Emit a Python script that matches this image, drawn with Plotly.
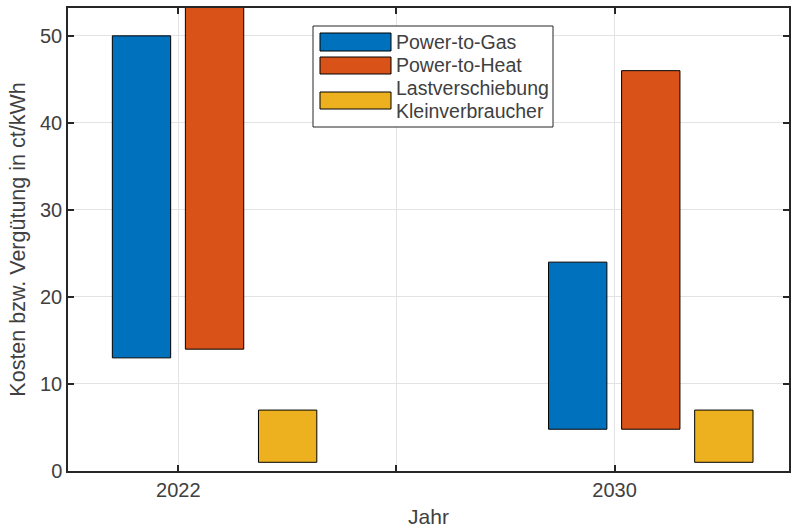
import plotly.graph_objects as go

# Data: floating bars (lower and upper bound) per year and technology
years = [2022, 2030]
series = ["Power-to-Gas", "Power-to-Heat", "Lastverschiebung<br>Kleinverbraucher"]
lower = {
    "Power-to-Gas": [13, 4.8],
    "Power-to-Heat": [14, 4.8],
    "Lastverschiebung<br>Kleinverbraucher": [1, 1],
}
upper = {
    "Power-to-Gas": [50, 24],
    "Power-to-Heat": [56, 46],
    "Lastverschiebung<br>Kleinverbraucher": [7, 7],
}
colors = ["#0072BD", "#D95319", "#EDB120"]
x_ticks = [2022, 2026, 2030]
x_ticklabels = ["2022", "", "2030"]
y_ticks = [0, 10, 20, 30, 40, 50]

bar_width = 1.07
offsets = [-1.21, 0.13, 1.47]

FONT = "Liberation Sans, Arial, sans-serif"
TXT = "#404040"
AX = "#262626"

fig = go.Figure()
for name, col, off in zip(series, colors, offsets):
    lo = lower[name]
    hi = upper[name]
    fig.add_trace(go.Bar(
        x=years,
        y=[h - l for h, l in zip(hi, lo)],
        base=lo,
        width=bar_width,
        offset=off,
        name=name,
        marker=dict(color=col, line=dict(color="#000000", width=1)),
        showlegend=False,
    ))

# Legend drawn as a box with wide colour swatches
L = dict(x0=313, x1=553, y0=26, y1=127)
W, H = 791, 531
ml, mr, mt, mb = 68, 2, 8, 60
pw, ph = W - ml - mr, H - mt - mb


def px(x):
    return (x - ml) / pw


def py(y):
    return 1 - (y - mt) / ph


shapes = [dict(type="rect", xref="paper", yref="paper",
               x0=px(L["x0"]), x1=px(L["x1"]), y0=py(L["y1"]), y1=py(L["y0"]),
               line=dict(color=AX, width=1), fillcolor="white", layer="above")]
annotations = []
swatch_rows = [(33, 51), (57, 74), (92, 109)]
text_rows = [[42], [65], [88, 111]]
for name, col, (sy0, sy1), trow in zip(series, colors, swatch_rows, text_rows):
    shapes.append(dict(type="rect", xref="paper", yref="paper",
                       x0=px(320), x1=px(391), y0=py(sy1), y1=py(sy0),
                       line=dict(color="#000000", width=1), fillcolor=col, layer="above"))
    for line_text, ty in zip(name.split("<br>"), trow):
        annotations.append(dict(xref="paper", yref="paper", x=px(394), y=py(ty),
                                text=line_text, showarrow=False, xanchor="left",
                                yanchor="middle", font=dict(family=FONT, size=19.5, color=TXT)))

fig.update_layout(
    width=W, height=H,
    margin=dict(l=ml, r=mr, t=mt, b=mb, autoexpand=False),
    barmode="overlay",
    plot_bgcolor="white", paper_bgcolor="white",
    font=dict(family=FONT, size=20, color=TXT),
    shapes=shapes,
    annotations=annotations,
    xaxis=dict(
        range=[2019.977, 2033.2],
        tickvals=x_ticks, ticktext=x_ticklabels,
        ticks="inside", ticklen=6, tickcolor=AX, tickwidth=1.5,
        showline=True, linecolor=AX, linewidth=1.5, mirror="ticks",
        showgrid=True, gridcolor="#e3e3e3", gridwidth=1,
        zeroline=False, automargin=False,
        tickfont=dict(family=FONT, size=20, color=TXT),
        title=dict(text="Jahr", font=dict(family=FONT, size=21, color=TXT), standoff=10),
    ),
    yaxis=dict(
        range=[0, 53.2],
        tickvals=y_ticks,
        ticks="inside", ticklen=6, tickcolor=AX, tickwidth=1.5,
        showline=True, linecolor=AX, linewidth=1.5, mirror="ticks",
        showgrid=True, gridcolor="#e3e3e3", gridwidth=1,
        zeroline=False, automargin=False,
        tickfont=dict(family=FONT, size=20, color=TXT),
        title=dict(text="Kosten bzw. Vergütung in ct/kWh",
                   font=dict(family=FONT, size=21.5, color=TXT), standoff=8),
    ),
)

fig.write_html("out.html")
